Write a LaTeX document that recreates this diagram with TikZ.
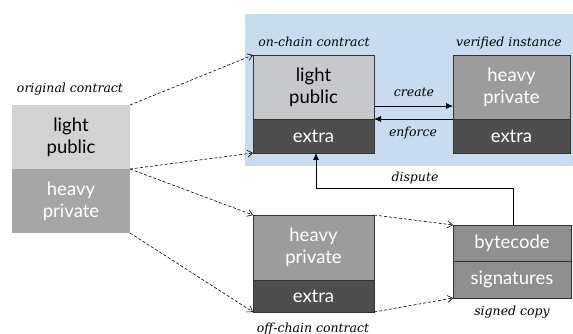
\documentclass[tikz,border=0pt]{standalone}
\usepackage{fontspec}
\setmainfont{Lato}
\newfontfamily\labelfont{DejaVu Serif}
\usetikzlibrary{arrows.meta}
\definecolor{bgblue}{HTML}{C9DCEF}
\definecolor{paleg}{HTML}{D2D2D2}
\definecolor{origg}{HTML}{A6A6A6}
\definecolor{lightg}{HTML}{C6C8CC}
\definecolor{midg}{HTML}{9C9C9C}
\definecolor{sigg}{HTML}{8F8F8F}
\definecolor{darkg}{HTML}{4E4E4E}
\definecolor{edgeg}{HTML}{333333}
\tikzset{
  part/.style={inner sep=0pt, outer sep=0pt, font=\fontsize{18.5}{22}\selectfont, align=center},
  framed/.style={part, draw=edgeg, line width=0.8pt},
  caption/.style={font=\labelfont\itshape\fontsize{12.5}{14}\selectfont, inner sep=0pt, anchor=base},
  verb/.style={caption, font=\labelfont\itshape\fontsize{12.5}{14}\selectfont},
  flow/.style={densely dashed, line width=0.6pt, -{Straight Barb[length=5pt,width=7pt]}},
  link/.style={line width=0.7pt, -{Latex[length=7pt,width=6pt]}},
}
\begin{document}
\begin{tikzpicture}[x=1pt,y=-1pt]
\useasboundingbox (0,0) rectangle (573,334);
% blue on-chain region
\fill[bgblue] (245,14) rectangle (573,166);

% original contract (no frame)
\node[part, fill=paleg, text=black, minimum width=118pt, minimum height=64pt, anchor=north west] (olight) at (12,105) {light\\public};
\node[part, fill=origg, text=white, minimum width=118pt, minimum height=64pt, anchor=north west] (oheavy) at (12,169) {heavy\\private};
\node[caption] (ocap) at (70,93) {original contract};

% on-chain contract
\node[framed, fill=lightg, text=black, minimum width=121pt, minimum height=64pt, anchor=north west] (clight) at (253,55) {light\\public};
\node[framed, fill=darkg, text=white, minimum width=121pt, minimum height=34pt, anchor=north west] (cextra) at (253,119) {extra};
\node[caption] (ccap) at (314,47) {on-chain contract};

% verified instance
\node[framed, fill=midg, text=white, minimum width=117pt, minimum height=64pt, anchor=north west] (vheavy) at (453,55) {heavy\\private};
\node[framed, fill=darkg, text=white, minimum width=117pt, minimum height=34pt, anchor=north west] (vextra) at (453,119) {extra};
\node[caption] (vcap) at (509,47) {verified instance};

% off-chain contract
\node[framed, fill=midg, text=white, minimum width=121pt, minimum height=65pt, anchor=north west] (fheavy) at (253,215) {heavy\\private};
\node[framed, fill=darkg, text=white, minimum width=121pt, minimum height=32pt, anchor=north west] (fextra) at (253,280) {extra};
\node[caption] (fcap) at (313,332) {off-chain contract};

% signed copy
\node[framed, fill=sigg, text=white, minimum width=118pt, minimum height=36pt, anchor=north west] (sbyte) at (453,225) {bytecode};
\node[framed, fill=sigg, text=white, minimum width=118pt, minimum height=37pt, anchor=north west] (ssig) at (453,261) {signatures};
\node[caption] (scap) at (512,315) {signed copy};

% create / enforce
\draw[link] (clight.east |- 0,106) -- (vheavy.west |- 0,106);
\node[verb] (lcreate) at (414,97) {create};
\draw[link] (vheavy.south west) -- (clight.south east);
\node[verb] (lenforce) at (413,137) {enforce};

% dispute
\coordinate (dup) at (513,188);
\coordinate (dturn) at (316,188);
\draw[link] (sbyte.north -| dup) -- (dup) -- (dturn) -- (dturn |- cextra.south);
\node[verb] (ldispute) at (415,182) {dispute};

% dashed flows
\draw[flow] (olight.north east) -- (clight.north west);
\draw[flow] (olight.south east) -- (cextra.south west);
\draw[flow] (olight.south east) -- (fheavy.north west);
\draw[flow] (oheavy.south east) -- (fextra.south west);
\draw[flow] (fheavy.north east) -- (sbyte.north west);
\draw[flow] (fextra.south east) -- (ssig.south west);
\end{tikzpicture}
\end{document}
